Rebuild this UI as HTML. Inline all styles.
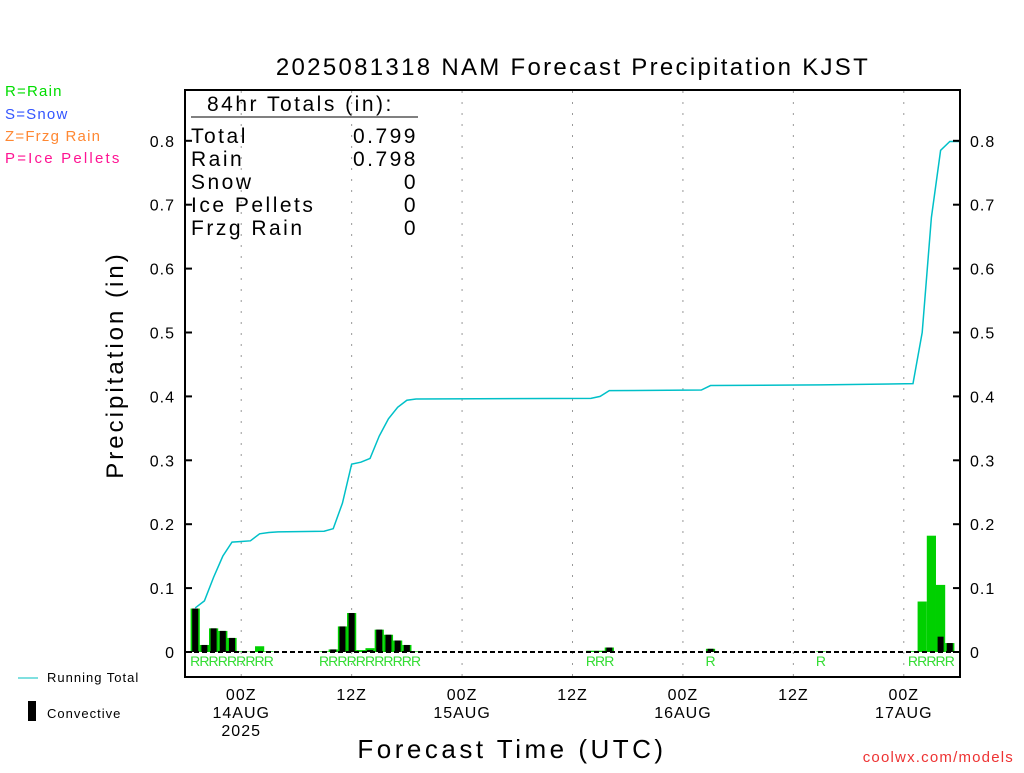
<!DOCTYPE html>
<html><head><meta charset="utf-8"><style>
body{margin:0;background:#fff;}
svg text{font-family:"Liberation Sans",sans-serif;}
</style></head><body>
<svg id="c" width="1024" height="768" xmlns="http://www.w3.org/2000/svg">
<text x="573" y="75" font-size="24" letter-spacing="2.3" text-anchor="middle">2025081318 NAM Forecast Precipitation KJST</text>
<text x="5" y="96" font-size="15" letter-spacing="1.2" fill="#00dd00">R=Rain</text>
<text x="5" y="119" font-size="15" letter-spacing="1.2" fill="#3355ff">S=Snow</text>
<text x="5" y="141" font-size="15" letter-spacing="1.2" fill="#ff8833">Z=Frzg Rain</text>
<text x="5" y="163" font-size="15" letter-spacing="2.2" fill="#ff1493">P=Ice Pellets</text>
<rect x="185" y="90" width="775" height="587" fill="none" stroke="#000" stroke-width="2"/>
<g id="grid"></g><g id="bars"></g><g id="ticks"></g>
<text transform="translate(123,365) rotate(-90)" font-size="24" letter-spacing="3" text-anchor="middle">Precipitation (in)</text>
<text x="512" y="758" font-size="26" letter-spacing="3.5" text-anchor="middle">Forecast Time (UTC)</text>
<text x="1014" y="762" font-size="15" letter-spacing="1.2" fill="#ee3333" text-anchor="end">coolwx.com/models</text>
<g font-size="21" letter-spacing="2.5">
<text x="207" y="111">84hr Totals (in):</text>
<line x1="191" y1="117" x2="418" y2="117" stroke="#000"/>
<text x="191" y="143">Total</text><text x="418" y="143" text-anchor="end">0.799</text>
<text x="191" y="166">Rain</text><text x="418" y="166" text-anchor="end">0.798</text>
<text x="191" y="189">Snow</text><text x="418" y="189" text-anchor="end">0</text>
<text x="191" y="212">Ice Pellets</text><text x="418" y="212" text-anchor="end">0</text>
<text x="191" y="235">Frzg Rain</text><text x="418" y="235" text-anchor="end">0</text>
</g>
<line x1="18" y1="678" x2="38" y2="678" stroke="#00c0c0"/>
<text x="47" y="682" font-size="13" letter-spacing="1">Running Total</text>
<rect x="28" y="701" width="8" height="20" fill="#000"/>
<text x="47" y="718" font-size="13" letter-spacing="1">Convective</text>
</svg>
<script>
const barHours=[1,2,3,4,5,6,7,8,9,15,16,17,18,19,20,21,22,23,24,25,44,45,46,57,69,79,80,81,82,83];
const barTotal=[0.068,0.011,0.037,0.033,0.022,0.001,0.0005,0.009,0.001,0.001,0.004,0.040,0.061,0.003,0.006,0.035,0.027,0.018,0.011,0.001,0.002,0.002,0.007,0.005,0.001,0.001,0.079,0.182,0.105,0.014];
const barConv=[0.068,0.011,0.037,0.033,0.022,0,0,0,0,0,0.004,0.040,0.061,0,0.003,0.035,0.027,0.018,0.011,0,0,0,0.007,0.005,0,0,0,0,0.024,0.014];
const lineHours=[1,2,3,4,5,6,7,8,9,10,15,16,17,18,19,20,21,22,23,24,25,44,45,46,56,57,69,79,80,81,82,83,84];
const lineTotal=[0.069,0.080,0.117,0.150,0.172,0.173,0.174,0.185,0.187,0.188,0.189,0.193,0.233,0.294,0.297,0.303,0.338,0.365,0.383,0.394,0.396,0.397,0.400,0.409,0.410,0.417,0.418,0.420,0.500,0.680,0.785,0.799,0.799];
const yTicks=[0,0.1,0.2,0.3,0.4,0.5,0.6,0.7,0.8];
const xTickHours=[6,18,30,42,54,66,78];
const xTickLabels=[["00Z","14AUG","2025"],["12Z"],["00Z","15AUG"],["12Z"],["00Z","16AUG"],["12Z"],["00Z","17AUG"]];
const NS="http://www.w3.org/2000/svg";
const X=h=>186+h*(773/84), Y=v=>652-v*639;
function mk(t,a,p){const e=document.createElementNS(NS,t);for(const k in a)e.setAttribute(k,a[k]);p.appendChild(e);return e;}
const g=document.getElementById('grid'),b=document.getElementById('bars'),tk=document.getElementById('ticks');
xTickHours.forEach((h,i)=>{
 const l=mk('line',{x1:X(h),x2:X(h),y1:91,y2:676,stroke:'#999','stroke-dasharray':'2,9'},g);
 
 
 xTickLabels[i].forEach((s,j)=>{const t=mk('text',{x:X(h),y:700+j*18,'font-size':16,'letter-spacing':1,'text-anchor':'middle'},tk);t.textContent=s;
 
 });
});
yTicks.forEach(v=>{
 [[185,192,175,'end'],[953,960,970,'start']].forEach(([a,c,tx,an])=>{
  const l=mk('line',{x1:a,x2:c,y1:Y(v),y2:Y(v),stroke:'#000','stroke-width':2},tk);
  
  
  const t=mk('text',{x:tx,y:Y(v)+6,'font-size':16,'letter-spacing':1,'text-anchor':an},tk);t.textContent=String(v);
  
  
 });
});
barHours.forEach((h,i)=>{
 const r=mk('rect',{x:X(h)-4.6,y:Y(barTotal[i]),width:9.2,height:barTotal[i]*639,fill:'#00d000'},b);
 
 
 if(barConv[i]>0){const c=mk('rect',{x:X(h)-3,y:Y(barConv[i]),width:6,height:barConv[i]*639,fill:'#000'},b);
 
 }
 const t=mk('text',{x:X(h),y:666,'font-size':14,'text-anchor':'middle',fill:'#33dd33'},b);t.textContent='R';
 
 
});
const zl=mk('line',{x1:186,x2:959,y1:652,y2:652,stroke:'#000','stroke-width':2,'stroke-dasharray':'5,3'},b);


const pl=mk('polyline',{points:lineHours.map((h,i)=>X(h)+','+Y(lineTotal[i])).join(' '),fill:'none',stroke:'#00c0c8','stroke-width':1.5},b);


</script>
</body></html>
